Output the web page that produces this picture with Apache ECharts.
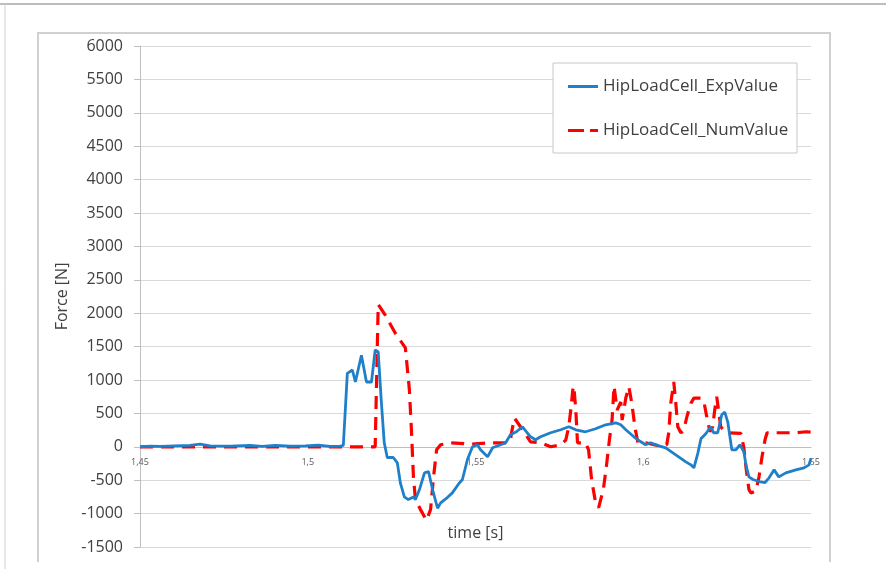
<!DOCTYPE html>
<html>
<head>
<meta charset="utf-8">
<title>Hip load cell force</title>
<script src="https://cdn.jsdelivr.net/npm/echarts@6/dist/echarts.min.js"></script>
<style>
  html, body { margin: 0; padding: 0; background: #fff; }
  #chart { width: 886px; height: 569px; }
</style>
</head>
<body>
<div id="chart"></div>
<script>
// Measured hip load cell force (experiment)
const expTime = [
  1.4500, 1.4530, 1.4560, 1.4604, 1.4649, 1.4679, 1.4709, 1.4769, 1.4828, 1.4864,
  1.4903, 1.4948, 1.4993, 1.5031, 1.5067, 1.5097, 1.5106, 1.5118, 1.5133, 1.5142,
  1.5160, 1.5175, 1.5190, 1.5201, 1.5210, 1.5219, 1.5228, 1.5237, 1.5255, 1.5267,
  1.5276, 1.5288, 1.5300, 1.5315, 1.5321, 1.5333, 1.5348, 1.5360, 1.5372, 1.5387,
  1.5396, 1.5416, 1.5431, 1.5449, 1.5461, 1.5476, 1.5491, 1.5506, 1.5515, 1.5536,
  1.5551, 1.5575, 1.5590, 1.5604, 1.5622, 1.5640, 1.5664, 1.5679, 1.5694, 1.5724,
  1.5754, 1.5778, 1.5799, 1.5828, 1.5858, 1.5888, 1.5918, 1.5933, 1.5948, 1.5972,
  1.5993, 1.6007, 1.6022, 1.6037, 1.6067, 1.6097, 1.6127, 1.6142, 1.6151, 1.6163,
  1.6172, 1.6187, 1.6201, 1.6210, 1.6222, 1.6234, 1.6243, 1.6252, 1.6264, 1.6276,
  1.6288, 1.6300, 1.6306, 1.6315, 1.6327, 1.6345, 1.6363, 1.6375, 1.6390, 1.6404,
  1.6425, 1.6455, 1.6479, 1.6494, 1.6500
];
const expForce = [
  0, 10, 5, 15, 20, 40, 15, 10, 20, 5,
  20, 10, 15, 25, 5, 10, 20, 1100, 1150, 970,
  1370, 970, 970, 1450, 1420, 700, 60, -160, -160, -240,
  -540, -750, -790, -750, -790, -640, -390, -370, -640, -920,
  -840, -760, -690, -560, -490, -190, 0, 30, -45, -150,
  -15, 30, 60, 180, 225, 300, 150, 105, 150, 210,
  255, 300, 255, 225, 270, 330, 360, 330, 255, 150,
  75, 30, 60, 30, -15, -120, -225, -270, -315, -90,
  120, 200, 300, 210, 210, 480, 520, 370, -45, -45,
  30, -75, -270, -450, -490, -520, -535, -465, -345, -450,
  -390, -345, -315, -270, -170
];

// Simulated hip load cell force (numerical model)
const numTime = [
  1.4500, 1.5201, 1.5210, 1.5231, 1.5261, 1.5291, 1.5303, 1.5309, 1.5315, 1.5321,
  1.5336, 1.5354, 1.5366, 1.5375, 1.5384, 1.5396, 1.5425, 1.5485, 1.5545, 1.5599,
  1.5604, 1.5610, 1.5616, 1.5634, 1.5646, 1.5664, 1.5694, 1.5724, 1.5754, 1.5769,
  1.5778, 1.5784, 1.5790, 1.5793, 1.5799, 1.5804, 1.5828, 1.5837, 1.5846, 1.5858,
  1.5867, 1.5881, 1.5890, 1.5899, 1.5907, 1.5913, 1.5922, 1.5933, 1.5937, 1.5948,
  1.5957, 1.5966, 1.5975, 1.5984, 1.6007, 1.6052, 1.6070, 1.6076, 1.6082, 1.6091,
  1.6097, 1.6103, 1.6112, 1.6121, 1.6130, 1.6142, 1.6151, 1.6172, 1.6181, 1.6190,
  1.6199, 1.6207, 1.6213, 1.6219, 1.6231, 1.6246, 1.6291, 1.6300, 1.6306, 1.6315,
  1.6321, 1.6336, 1.6345, 1.6354, 1.6363, 1.6369, 1.6455, 1.6485, 1.6500
];
const numForce = [
  0, 0, 2130, 1970, 1700, 1480, 850, 250, -450, -790,
  -940, -1100, -940, -450, -45, 30, 60, 40, 60, 60,
  105, 280, 430, 300, 210, 75, 60, 0, 30, 100,
  300, 550, 850, 910, 550, 60, 60, -45, -490, -840,
  -910, -640, -300, 100, 400, 910, 550, 670, 400, 730,
  900, 650, 300, 60, 60, 10, 30, 210, 650, 970,
  650, 300, 210, 250, 450, 650, 730, 730, 670, 430,
  225, 300, 550, 750, 300, 210, 200, -15, -300, -640,
  -690, -660, -450, -150, 105, 210, 210, 225, 220
];

const seriesNames = ['HipLoadCell_ExpValue', 'HipLoadCell_NumValue'];
const yMin = -1500, yMax = 6000, yStep = 500;
const xMin = 1.45, xMax = 1.65, xStep = 0.05;

const FONT = '"Open Sans", "Liberation Sans", sans-serif';
const BLUE = '#1f7fc9';
const RED = '#ff0000';
const zip = (xs, ys) => xs.map((x, i) => [x, ys[i]]);

// plot box
const GRID = { left: 140, right: 75, top: 46, bottom: 22 };
const plotHeight = 569 - GRID.top - GRID.bottom;
// the time axis runs along force = 0
const timeAxisOffset = -plotHeight * (0 - yMin) / (yMax - yMin);

const chart = echarts.init(document.getElementById('chart'), null, { renderer: 'canvas' });

chart.setOption({
  backgroundColor: '#ffffff',
  animation: false,
  textStyle: { fontFamily: FONT },
  grid: Object.assign({ containLabel: false, outerBoundsMode: 'none' }, GRID),
  xAxis: {
    type: 'value',
    min: xMin, max: xMax, interval: xStep,
    position: 'bottom',
    offset: timeAxisOffset,
    name: 'time [s]',
    nameLocation: 'middle',
    nameGap: 79,
    nameTextStyle: { fontSize: 16, color: '#404040', fontFamily: FONT },
    axisLine: { show: true, onZero: false, lineStyle: { color: '#bfbfbf', width: 1 } },
    axisTick: { show: false },
    splitLine: { show: false },
    axisLabel: {
      fontSize: 9, color: '#595959', margin: 11, fontFamily: FONT,
      formatter: v => String(Math.round(v * 100) / 100).replace('.', ',')
    }
  },
  yAxis: {
    type: 'value',
    min: yMin, max: yMax, interval: yStep,
    name: 'Force [N]',
    nameLocation: 'middle',
    nameRotate: 90,
    nameGap: 68,
    nameTextStyle: { fontSize: 16, color: '#404040', fontFamily: FONT },
    axisLine: { show: true, lineStyle: { color: '#bfbfbf', width: 1 } },
    axisTick: { show: true, length: 6, lineStyle: { color: '#bfbfbf' } },
    splitLine: { show: true, lineStyle: { color: '#d9d9d9', width: 1 } },
    axisLabel: { fontSize: 16, color: '#404040', margin: 17, fontFamily: FONT, formatter: v => String(v) }
  },
  legend: {
    orient: 'vertical',
    left: 563,
    top: 73,
    itemWidth: 30,
    itemHeight: 3,
    itemGap: 27,
    z: 10,
    textStyle: { fontSize: 17, color: '#404040', fontFamily: FONT },
    data: [
      { name: seriesNames[0], icon: 'path://M0,0H30V3H0Z', itemStyle: { color: BLUE } },
      { name: seriesNames[1], icon: 'path://M0,0H16V3H0Z M22,0H30V3H22Z', itemStyle: { color: RED } }
    ]
  },
  graphic: [
    // chart frame
    { type: 'line', shape: { x1: 0, y1: 4, x2: 886, y2: 4 }, style: { stroke: '#bdbdbd', lineWidth: 2 }, z: 0 },
    { type: 'line', shape: { x1: 5, y1: 4, x2: 5, y2: 569 }, style: { stroke: '#d0d0d0', lineWidth: 1 }, z: 0 },
    { type: 'polyline', shape: { points: [[38, 562], [38, 33], [830, 33], [830, 562]] }, style: { stroke: '#d0d0d0', lineWidth: 2, fill: null }, z: 0 },
    // legend box
    { type: 'rect', shape: { x: 553, y: 63, width: 244, height: 90 }, style: { fill: '#ffffff', stroke: '#c8c8c8', lineWidth: 1 }, z: 5 }
  ],
  series: [
    {
      name: seriesNames[0],
      type: 'line',
      data: zip(expTime, expForce),
      showSymbol: false,
      symbol: 'none',
      lineStyle: { color: BLUE, width: 2.8 },
      itemStyle: { color: BLUE },
      z: 3
    },
    {
      name: seriesNames[1],
      type: 'line',
      data: zip(numTime, numForce),
      showSymbol: false,
      symbol: 'none',
      lineStyle: { color: RED, width: 3.2, type: [13, 8] },
      itemStyle: { color: RED },
      z: 2
    }
  ]
});
</script>
</body>
</html>
